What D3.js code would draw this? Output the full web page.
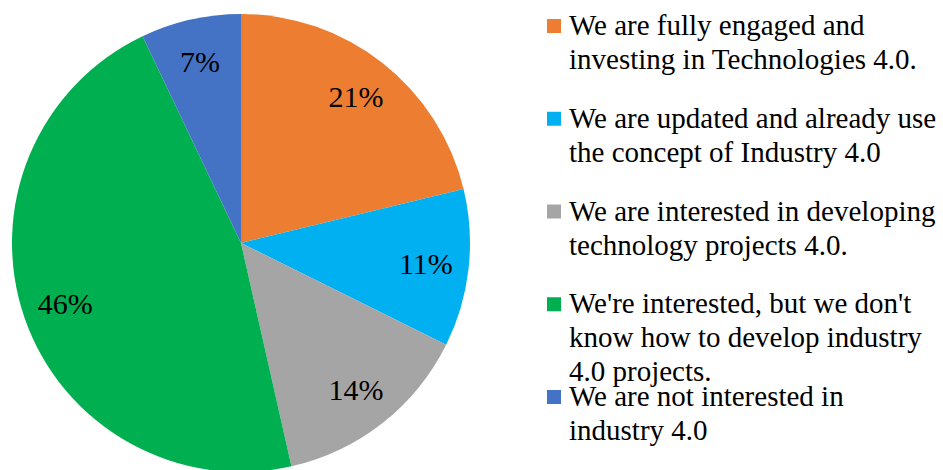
<!DOCTYPE html>
<html>
<head>
<meta charset="utf-8">
<script src="https://cdn.jsdelivr.net/npm/d3@7"></script>
<style>
  html, body { margin: 0; padding: 0; background: #fff; }
  svg { display: block; }
</style>
</head>
<body>
<svg id="chart" width="943" height="470"></svg>
<script>
// Survey answers on Industry 4.0 adoption (share of respondents, %)
const categories = [
  "We are fully engaged and\ninvesting in Technologies 4.0.",
  "We are updated and already use\nthe concept of Industry 4.0",
  "We are interested in developing\ntechnology projects 4.0.",
  "We're interested, but we don't\nknow how to develop industry\n4.0 projects.",
  "We are not interested in\nindustry 4.0"
];
const values = [21, 11, 14, 46, 7];
const colors = ["#ED7D31", "#00B0F0", "#A5A5A5", "#00B050", "#4472C4"];

const FONT = "'Liberation Serif', Tinos, 'DejaVu Serif', serif";

const svg = d3.select("#chart");

// Pie geometry
const cx = 241, cy = 243, radius = 229;
const pie = d3.pie().value(d => d).sort(null);
const arcs = pie(values);
const arc = d3.arc().innerRadius(0).outerRadius(radius);
const labelArc = d3.arc().innerRadius(186).outerRadius(186);

const g = svg.append("g").attr("transform", `translate(${cx},${cy})`);

g.selectAll("path.slice")
  .data(arcs)
  .join("path")
  .attr("class", "slice")
  .attr("d", arc)
  .attr("fill", (d, i) => colors[i]);

g.selectAll("text.pct")
  .data(arcs)
  .join("text")
  .attr("class", "pct")
  .attr("transform", d => `translate(${labelArc.centroid(d)})`)
  .attr("text-anchor", "middle")
  .attr("dy", "0.35em")
  .attr("font-family", FONT)
  .attr("font-size", 30)
  .attr("fill", "#000")
  .text(d => d.data + "%");

// Legend
const legendX = 547, legendTop = 35, entryGap = 92.75, lineGap = 34;
const legend = svg.append("g");
const entries = legend.selectAll("g.entry")
  .data(categories)
  .join("g")
  .attr("class", "entry")
  .attr("transform", (d, i) => `translate(${legendX},${legendTop + i * entryGap})`);

entries.append("rect")
  .attr("x", 0)
  .attr("y", -16)
  .attr("width", 14)
  .attr("height", 14)
  .attr("fill", (d, i) => colors[i]);

entries.append("text")
  .attr("x", 22)
  .attr("y", 0)
  .attr("font-family", FONT)
  .attr("font-size", 29)
  .attr("fill", "#000")
  .selectAll("tspan")
  .data(d => d.split("\n"))
  .join("tspan")
  .attr("x", 22)
  .attr("dy", (d, j) => j === 0 ? 0 : lineGap)
  .text(d => d);
</script>
</body>
</html>
